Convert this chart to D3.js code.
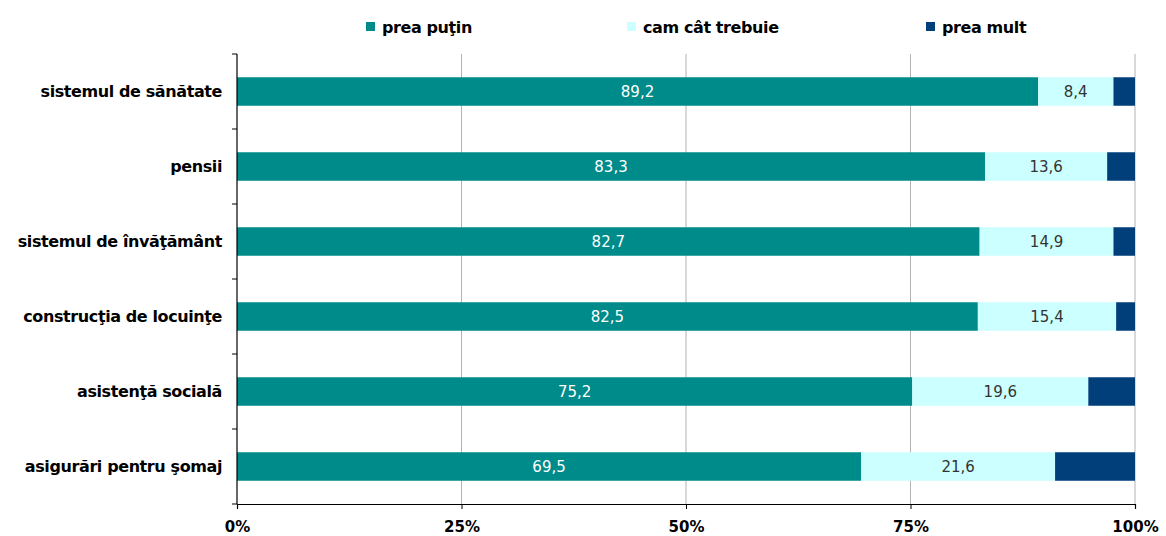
<!DOCTYPE html>
<html><head><meta charset="utf-8">
<script src="https://cdn.jsdelivr.net/npm/d3@7"></script>
<style>body{margin:0;background:#fff}</style>
</head><body><svg id="c" width="1166" height="536"></svg>
<script>
const categories = ["sistemul de sănătate","pensii","sistemul de învăţământ","construcţia de locuinţe","asistenţă socială","asigurări pentru şomaj"];
const preaPutin = [89.2,83.3,82.7,82.5,75.2,69.5];
const camCat = [8.4,13.6,14.9,15.4,19.6,21.6];
const preaMult = [2.4,3.1,2.4,2.1,5.2,8.9];
const seriesNames = ["prea puţin","cam cât trebuie","prea mult"];
const tickLabels = ["0%","25%","50%","75%","100%"];
const colors = ["#008B8B","#CCFFFF","#003F7A"];

const svg = d3.select("#c");
const L=237,R=1135,T=54,B=504;
const x = d3.scaleLinear().domain([0,100]).range([L,R]);
const y = d3.scaleBand().domain(categories).range([T,B]).paddingInner(0.62).paddingOuter(0.31);

const rows = categories.map((c,i)=>({cat:c, a:preaPutin[i], b:camCat[i], m:preaMult[i]}));
rows.forEach(r=>{const s=r.a+r.b+r.m; r.v=[r.a/s*100,r.b/s*100,r.m/s*100]; r.raw=[r.a,r.b,r.m];});

// gridlines
svg.append("g").selectAll("line").data([25,50,75,100]).join("line")
 .attr("x1",d=>x(d)).attr("x2",d=>x(d)).attr("y1",T).attr("y2",B)
 .attr("stroke","#b3b3b3").attr("stroke-width",1);

// bars
rows.forEach(r=>{
  let acc=0;
  r.v.forEach((v,j)=>{
    const x0=x(acc), x1=x(acc+v);
    svg.append("rect").attr("x",x0).attr("y",y(r.cat)).attr("width",x1-x0).attr("height",y.bandwidth()).attr("fill",colors[j]);
    if(j<2){
      svg.append("text").attr("x",(x0+x1)/2).attr("y",y(r.cat)+y.bandwidth()/2).attr("dy","0.36em")
       .attr("text-anchor","middle").attr("font-family","Verdana, DejaVu Sans, sans-serif").attr("font-size",15)
       .attr("fill", j==0?"#ffffff":"#333333").text(d3.format(".1f")(r.raw[j]).replace(".",","));
    }
    acc+=v;
  });
});

// y axis
const band = categories.length;
const step = (B-T)/band;
svg.append("line").attr("x1",L).attr("x2",L).attr("y1",T).attr("y2",B).attr("stroke","#000").attr("stroke-width",1.2);
d3.range(band+1).forEach(i=>{
  svg.append("line").attr("x1",L-5).attr("x2",L).attr("y1",T+i*step).attr("y2",T+i*step).attr("stroke","#000");
});
svg.append("g").selectAll("text").data(categories).join("text")
 .attr("x",222).attr("y",d=>y(d)+y.bandwidth()/2).attr("dy","0.35em").attr("text-anchor","end")
 .attr("font-family","DejaVu Sans, sans-serif").attr("font-weight","bold").attr("font-size",16)
 .attr("letter-spacing","-0.4").attr("fill","#000").text(d=>d);

// x axis
const xa = svg.append("g").attr("transform",`translate(0,${B})`)
 .call(d3.axisBottom(x).tickValues([0,25,50,75,100]).tickSize(5).tickFormat((d,i)=>tickLabels[i]));
xa.select(".domain").attr("stroke","#000").attr("stroke-width",1.2);
xa.selectAll("text").attr("font-family","Verdana, DejaVu Sans, sans-serif").attr("font-weight","bold").attr("font-size",15).attr("dy","1.3em").attr("fill","#000");

// legend
const lx=[366,627,926];
seriesNames.forEach((n,i)=>{
  svg.append("rect").attr("x",lx[i]).attr("y",22).attr("width",9).attr("height",9).attr("fill",colors[i]);
  svg.append("text").attr("x",lx[i]+16).attr("y",27).attr("dy","0.35em")
   .attr("font-family","DejaVu Sans, sans-serif").attr("font-weight","bold").attr("font-size",16)
   .attr("letter-spacing","-0.4").text(n);
});
</script></body></html>
